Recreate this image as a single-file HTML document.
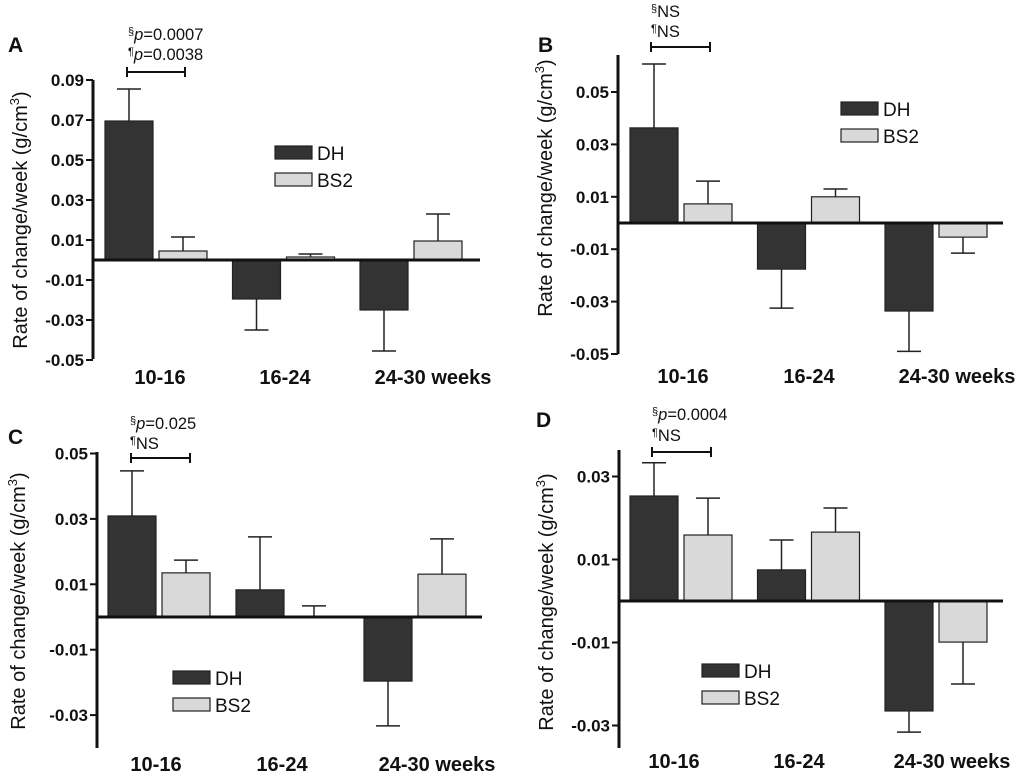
<!DOCTYPE html>
<html><head><meta charset="utf-8"><style>
body{margin:0;background:#fff;}
svg{display:block;font-family:"Liberation Sans",Arial,sans-serif;}
</style></head><body>
<svg id="fig" width="1024" height="776" viewBox="0 0 1024 776"></svg>
<script>
const categories = ["10-16","16-24","24-30 weeks"];
const seriesNames = ["DH","BS2"];
const aDH = [0.0695,-0.0195,-0.025];
const aDHerr = [0.016,0.0155,0.0205];
const aBS = [0.0045,0.0015,0.0095];
const aBSerr = [0.007,0.0015,0.0135];
const aTicks = [0.09,0.07,0.05,0.03,0.01,-0.01,-0.03,-0.05];
const bDH = [0.0363,-0.0176,-0.0336];
const bDHerr = [0.0244,0.0149,0.0154];
const bBS = [0.0073,0.01,-0.0054];
const bBSerr = [0.0087,0.003,0.0061];
const bTicks = [0.05,0.03,0.01,-0.01,-0.03,-0.05];
const cDH = [0.0309,0.0083,-0.0196];
const cDHerr = [0.0138,0.0162,0.0137];
const cBS = [0.0135,0.0002,0.0131];
const cBSerr = [0.0039,0.0032,0.0108];
const cTicks = [0.05,0.03,0.01,-0.01,-0.03];
const dDH = [0.0253,0.0075,-0.0265];
const dDHerr = [0.008,0.0072,0.0051];
const dBS = [0.0159,0.0166,-0.0099];
const dBSerr = [0.0089,0.0058,0.0101];
const dTicks = [0.03,0.01,-0.01,-0.03];

const NS="http://www.w3.org/2000/svg";
const svg=document.getElementById('fig');
function mk(tag,attrs,parent){const e=document.createElementNS(NS,tag);for(const k in attrs)e.setAttribute(k,attrs[k]);(parent||svg).appendChild(e);return e;}

const panels=[
 {id:'a',letter:'A',lx:8,ly:52,ax:93,zero:260,ppu:2000,top:80,bot:359,x0:105,gs:127.5,right:480,dh:aDH,dhe:aDHerr,bs:aBS,bse:aBSerr,ticks:aTicks,
  ytx:20,yty:220,labY:383,labX:[160,285,433],leg:[275,146],ann:["p=0.0007","p=0.0038"],annX:128,annY:[40,60],br:[127,185,72]},
 {id:'b',letter:'B',lx:538,ly:52,ax:618,zero:223,ppu:2620,top:55,bot:354,x0:630,gs:127.5,right:1003,dh:bDH,dhe:bDHerr,bs:bBS,bse:bBSerr,ticks:bTicks,
  ytx:545,yty:188,labY:382,labX:[683,809,957],leg:[841,102],ann:["NS","NS"],annX:651,annY:[17,37],br:[651,710,47]},
 {id:'c',letter:'C',lx:8,ly:444,ax:97,zero:617,ppu:3270,top:452,bot:748,x0:108,gs:128,right:482,dh:cDH,dhe:cDHerr,bs:cBS,bse:cBSerr,ticks:cTicks,
  ytx:18,yty:601,labY:770,labX:[156,282,437],leg:[173,671],ann:["p=0.025","NS"],annX:130,annY:[429,449],br:[131,190,458]},
 {id:'d',letter:'D',lx:536,ly:427,ax:619,zero:601,ppu:4150,top:450,bot:748,x0:630,gs:127.5,right:1003,dh:dDH,dhe:dDHerr,bs:dBS,bse:dBSerr,ticks:dTicks,
  ytx:546,yty:602,labY:767,labX:[674,799,952],leg:[702,664],ann:["p=0.0004","NS"],annX:652,annY:[420,441],br:[652,711,452]}
];
const BW=48, GAP=6;
panels.forEach(p=>{
  const g=mk('g',{});
  
  
  const y=v=>p.zero - v*p.ppu;
  const L=mk('text',{x:p.lx,y:p.ly,'font-size':21,'font-weight':'bold',fill:'#111'},g);L.textContent=p.letter;
  
  const ya=mk('line',{x1:p.ax,y1:p.top,x2:p.ax,y2:p.bot,stroke:'#111','stroke-width':3},g);
  
  p.ticks.forEach(t=>{
    mk('line',{x1:p.ax-7,y1:y(t),x2:p.ax,y2:y(t),stroke:'#111','stroke-width':2},g);
    const tl=mk('text',{x:p.ax-9,y:y(t)+6,'font-size':17,'font-weight':'bold','text-anchor':'end',fill:'#111'},g);
    tl.textContent=t.toFixed(2);
    
  });
  const yt=mk('text',{x:0,y:0,'font-size':20,'text-anchor':'middle',fill:'#111',transform:`translate(${p.ytx+7},${p.yty}) rotate(-90)`},g);
  yt.innerHTML='Rate of change/week (g/cm<tspan dy="-8" font-size="13">3</tspan><tspan dy="8">)</tspan>';
  
  categories.forEach((c,i)=>{
    const gx=p.x0+i*p.gs;
    [[p.dh,p.dhe,'#333333',0],[p.bs,p.bse,'#d9d9d9',1]].forEach(([vals,errs,fill,s])=>{
      const v=vals[i], e=errs[i], x=gx+s*(BW+GAP);
      const yt0=Math.min(y(v),p.zero), h=Math.abs(y(v)-p.zero);
      const ee=v>=0? v+e : v-e;
      mk('line',{x1:x+BW/2,y1:y(v),x2:x+BW/2,y2:y(ee),stroke:'#222','stroke-width':1.5},g);
      mk('line',{x1:x+BW/2-12,y1:y(ee),x2:x+BW/2+12,y2:y(ee),stroke:'#222','stroke-width':1.5},g);
      const r=mk('rect',{x:x,y:yt0,width:BW,height:Math.max(h,0.5),fill:fill,stroke:'#222','stroke-width':1.2},g);
      
      
    });
    const cl=mk('text',{x:p.labX[i],y:p.labY+1,'font-size':20,'font-weight':'bold','text-anchor':'middle',fill:'#111'},g);
    cl.textContent=c;
    
  });
  const zl=mk('line',{x1:p.ax,y1:p.zero,x2:p.right,y2:p.zero,stroke:'#111','stroke-width':3},g);
  
  [['#333333','DH'],['#d9d9d9','BS2']].forEach(([f,n],k)=>{
    const ly=p.leg[1]+k*27;
    const lr=mk('rect',{x:p.leg[0],y:ly,width:37,height:13,fill:f,stroke:'#222','stroke-width':1.2},g);
    
    const lt=mk('text',{x:p.leg[0]+42,y:ly+14,'font-size':19,fill:'#111'},g);lt.textContent=n;
    
  });
  ['§','¶'].forEach((sym,k)=>{
    const t=p.ann[k];
    const at=mk('text',{x:p.annX,y:p.annY[k],'font-size':16.5,fill:'#111'},g);
    if(t.startsWith('p=')) at.innerHTML=`<tspan font-size="11" dy="-5">${sym}</tspan><tspan dy="5" font-style="italic">p</tspan>${t.slice(1)}`;
    else at.innerHTML=`<tspan font-size="11" dy="-5">${sym}</tspan><tspan dy="5">${t}</tspan>`;
    
  });
  const [b1,b2,by]=p.br;
  const br=mk('path',{d:`M${b1},${by-5}V${by+5}M${b1},${by}H${b2}M${b2},${by-5}V${by+5}`,stroke:'#111','stroke-width':2,fill:'none'},g);
  
});
</script>
</body></html>
